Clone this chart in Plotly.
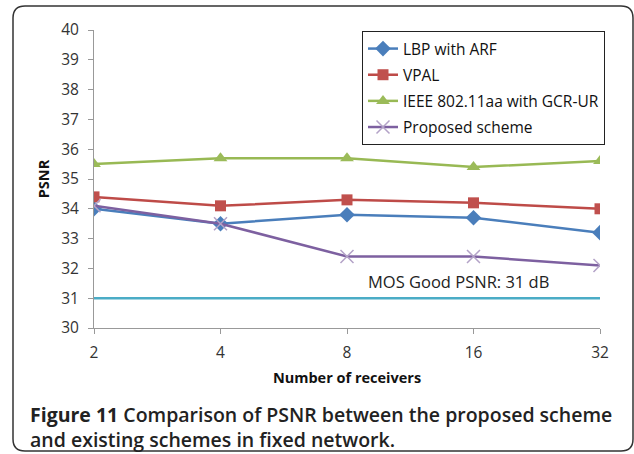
import plotly.graph_objects as go

# Receiver counts (categorical x axis) and PSNR results per scheme
receivers = ["2", "4", "8", "16", "32"]
lbp_arf = [34.0, 33.5, 33.8, 33.7, 33.2]
vpal = [34.4, 34.1, 34.3, 34.2, 34.0]
ieee_gcr = [35.5, 35.7, 35.7, 35.4, 35.6]
proposed = [34.1, 33.5, 32.4, 32.4, 32.1]
mos_good = [31, 31, 31, 31, 31]
y_ticks = [30, 31, 32, 33, 34, 35, 36, 37, 38, 39, 40]

W, H = 634, 454
L, R, T, B = 94, 34, 30, 126
pw, ph = W - L - R, H - T - B

def px(x):
    return (x - L) / pw

def py(y):
    return (H - B - y) / ph

tick_font = dict(family="Open Sans, sans-serif", size=15.5, color="#333333")

fig = go.Figure()

fig.add_trace(go.Scatter(
    x=receivers, y=mos_good, mode="lines", showlegend=False,
    line=dict(color="#4BACC6", width=2.5), hoverinfo="skip"))

fig.add_trace(go.Scatter(
    x=receivers, y=lbp_arf, mode="lines+markers", name="LBP with ARF", legendgroup="lbp",
    line=dict(color="#4A7EBB", width=2.5),
    marker=dict(symbol="diamond", size=12, color="#4A7EBB")))
fig.add_trace(go.Scatter(
    x=receivers, y=vpal, mode="lines+markers", name="VPAL", legendgroup="vpal",
    line=dict(color="#BE4B48", width=2.5),
    marker=dict(symbol="square", size=11, color="#C0504D")))
fig.add_trace(go.Scatter(
    x=receivers, y=ieee_gcr, mode="lines+markers", name="IEEE 802.11aa with GCR-UR",
    legendgroup="ieee",
    line=dict(color="#98B954", width=2.5),
    marker=dict(symbol="triangle-up", size=12, color="#9BBB59")))
fig.add_trace(go.Scatter(
    x=receivers, y=proposed, mode="lines+markers", name="Proposed scheme", legendgroup="prop",
    line=dict(color="#7D60A0", width=2.5),
    marker=dict(symbol="x-thin", size=13, line=dict(color="#B3A2C7", width=1.5))))

fig.add_annotation(
    x=2.88, y=31.55, xref="x", yref="y", text="MOS Good PSNR: 31 dB",
    showarrow=False, font=dict(family="Open Sans, sans-serif", size=16.5, color="#222222"))

fig.add_annotation(
    x=px(28), y=py(399), xref="paper", yref="paper", xanchor="left", yanchor="top",
    align="left", showarrow=False,
    text="<b>Figure 11</b> Comparison of PSNR between the proposed scheme<br>and existing schemes in fixed network.",
    font=dict(family="Open Sans, sans-serif", size=19.5, color="#222222", weight=600))

# Rounded frame around the figure and caption
x0, x1, y0, y1, r = px(13), px(633), py(6), py(451), 12
rx, ry = r / pw, r / ph
path = (f"M {x0 + rx} {y0} L {x1 - rx} {y0} Q {x1} {y0} {x1} {y0 - ry} "
        f"L {x1} {y1 + ry} Q {x1} {y1} {x1 - rx} {y1} "
        f"L {x0 + rx} {y1} Q {x0} {y1} {x0} {y1 + ry} "
        f"L {x0} {y0 - ry} Q {x0} {y0} {x0 + rx} {y0} Z")
fig.add_shape(type="path", path=path, xref="paper", yref="paper",
              line=dict(color="#333333", width=1.5), layer="above")

fig.update_layout(
    width=W, height=H, margin=dict(l=L, r=R, t=T, b=B),
    paper_bgcolor="white", plot_bgcolor="white",
    legend=dict(x=px(362), y=py(31), xanchor="left", yanchor="top",
                bgcolor="white", bordercolor="#222222", borderwidth=1,
                font=dict(family="Open Sans, sans-serif", size=15.5, color="#111111"),
                tracegroupgap=3, itemwidth=30),
    xaxis=dict(type="category", range=[0, 4], showgrid=False, zeroline=False,
               showline=True, linecolor="#999999", linewidth=1,
               ticks="outside", ticklen=5, tickcolor="#999999",
               tickfont=tick_font, ticklabelstandoff=5,
               title=dict(text="<b>Number of receivers</b>", standoff=11,
                          font=dict(family="Open Sans, sans-serif", size=14.5, color="#111111"))),
    yaxis=dict(range=[30, 40], tickvals=y_ticks, showgrid=False, zeroline=False,
               showline=True, linecolor="#999999", linewidth=1,
               ticks="outside", ticklen=5, tickcolor="#999999",
               tickfont=tick_font, ticklabelstandoff=6,
               title=dict(text="<b>PSNR</b>", standoff=8,
                          font=dict(family="Open Sans, sans-serif", size=14.5, color="#111111"))),
)

fig.write_html("out.html")
